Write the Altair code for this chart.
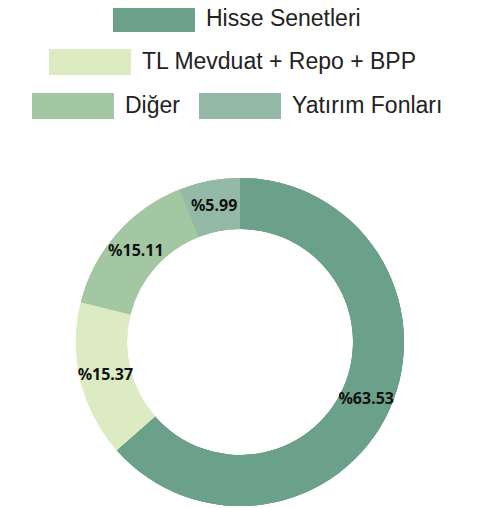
import altair as alt
import pandas as pd

categories = ["Hisse Senetleri", "TL Mevduat + Repo + BPP", "Diğer", "Yatırım Fonları"]
values = [63.53, 15.37, 15.11, 5.99]
colors = ["#6ba08a", "#ddebc3", "#a3c7a3", "#94b9a6"]

df = pd.DataFrame({
    "category": categories,
    "value": values,
    "idx": list(range(len(categories))),
})

SWATCH = "M-1,-0.317H1V0.317H-1Z"


def make_legend(vals, x, y, columns=1):
    return alt.Legend(
        values=vals, orient="none", legendX=x, legendY=y, columns=columns,
        title=None, symbolType=SWATCH, symbolSize=6724, symbolStrokeWidth=0,
        symbolOpacity=1, labelFont="Liberation Sans", labelFontSize=23,
        labelColor="#222222", labelOffset=11, labelLimit=400,
        columnPadding=19, rowPadding=0, padding=0, offset=0,
    )


base = alt.Chart(df).encode(
    theta=alt.Theta("value:Q", stack=True),
    order=alt.Order("idx:Q"),
)


def arcs(leg):
    return base.mark_arc(innerRadius=113, outerRadius=164, strokeWidth=0).encode(
        color=alt.Color("category:N",
                        scale=alt.Scale(domain=categories, range=colors),
                        legend=leg)
    )


a1 = arcs(make_legend([categories[0]], 38, -199))
a2 = arcs(make_legend([categories[1]], -26, -156))
a3 = arcs(make_legend([categories[2], categories[3]], -43, -112, columns=2))

text = base.mark_text(radius=138.5, font="Noto Sans", fontWeight="bold",
                      fontSize=16, color="#111111").encode(
    text="label:N"
).transform_calculate(label="'%' + format(datum.value, '.2f')")

chart = alt.layer(a1, a2, a3, text).resolve_scale(
    color="independent"
).resolve_legend(color="independent").properties(
    width=330, height=330,
    autosize=alt.AutoSizeParams(type="none"),
    padding={"left": 67, "top": 169, "right": 60, "bottom": 0},
).configure_view(strokeWidth=0)

chart.save("out.html", embed_options={"renderer": "svg", "actions": False})
